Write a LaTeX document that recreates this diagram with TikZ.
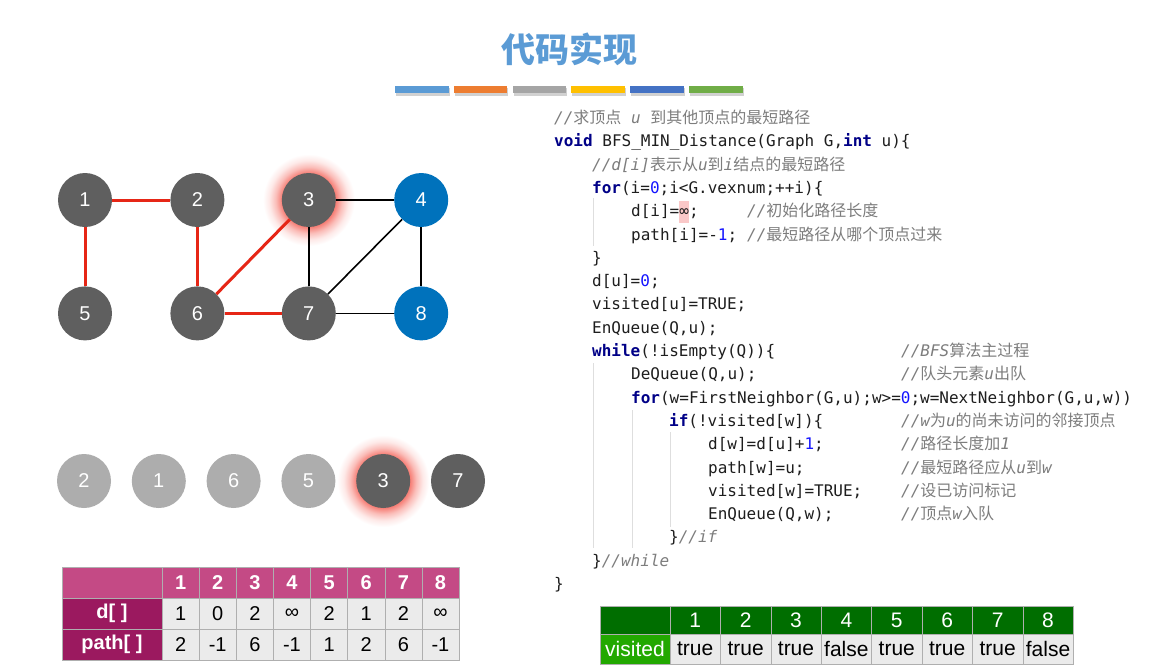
\documentclass[tikz,border=0pt]{standalone}
\usepackage{fontspec}
\setmainfont{Liberation Sans}
\setmonofont{DejaVu Sans Mono}
\newfontfamily\cjk{Noto Sans CJK SC}
\usetikzlibrary{positioning, backgrounds}

\definecolor{titleblue}{RGB}{91,155,213}
\definecolor{barA}{RGB}{91,155,213}
\definecolor{barB}{RGB}{237,125,49}
\definecolor{barC}{RGB}{165,165,165}
\definecolor{barD}{RGB}{255,192,0}
\definecolor{barE}{RGB}{68,114,196}
\definecolor{barF}{RGB}{112,173,71}
\definecolor{vgray}{RGB}{95,95,95}
\definecolor{vblue}{RGB}{0,114,188}
\definecolor{qgray}{RGB}{173,173,173}
\definecolor{treered}{RGB}{230,38,22}
\definecolor{glowred}{RGB}{245,110,100}
\definecolor{codeblack}{RGB}{30,30,30}
\definecolor{kwblue}{RGB}{0,0,135}
\definecolor{numblue}{RGB}{20,20,255}
\definecolor{cmtgray}{RGB}{125,125,125}
\definecolor{guidegray}{RGB}{222,222,222}
\definecolor{hlpink}{RGB}{250,200,200}
\definecolor{pinkhead}{RGB}{196,74,133}
\definecolor{pinklabel}{RGB}{155,25,95}
\definecolor{cellgray}{RGB}{235,235,235}
\definecolor{cellline}{RGB}{175,175,175}
\definecolor{greenhead}{RGB}{0,110,0}
\definecolor{greenlabel}{RGB}{34,168,0}

\pgfdeclareradialshading{glow}{\pgfpoint{0bp}{0bp}}{color(0bp)=(glowred); color(14.5bp)=(glowred!90!white); color(18bp)=(glowred!45!white); color(21.5bp)=(glowred!15!white); color(25bp)=(white); color(50bp)=(white)}

% code highlighting
\newcommand\kw[1]{\textbf{\textcolor{kwblue}{#1}}}
\newcommand\nm[1]{\textcolor{numblue}{#1}}
\newcommand\zh[1]{{\cjk\upshape #1}}
\newcommand\cmt[1]{{\color{cmtgray}\itshape #1}}
\newcommand\hl[1]{{\setlength{\fboxsep}{0pt}\colorbox{hlpink}{\rule[-6pt]{0pt}{22pt}#1}}}

\tikzset{
  vtx/.style={circle, fill=vgray, minimum size=54pt, inner sep=0pt, text=white, font=\fontsize{20}{20}\selectfont},
  bluevtx/.style={vtx, fill=vblue},
  qdone/.style={vtx, fill=qgray},
  treeedge/.style={draw=treered, line width=3pt},
  graphedge/.style={draw=black, line width=1.6pt},
  code/.style={anchor=base west, inner sep=0pt, text=codeblack, font=\fontsize{16}{16}\selectfont\ttfamily},
  guide/.style={draw=guidegray, line width=1pt},
  pcell/.style={draw=cellline, fill=cellgray, minimum width=37.125pt, minimum height=31pt, inner sep=0pt, font=\fontsize{20}{20}\selectfont},
  phead/.style={pcell, fill=pinkhead, text=white, font=\fontsize{20}{20}\selectfont\bfseries},
  plabel/.style={phead, fill=pinklabel, minimum width=100pt},
  gcell/.style={draw=cellline, fill=cellgray, minimum width=50.4pt, minimum height=30pt, inner sep=0pt, font=\fontsize{21}{21}\selectfont},
  ghead/.style={gcell, fill=greenhead, text=white, minimum height=28pt},
}

\begin{document}
\begin{tikzpicture}[x=1pt, y=-1pt]
\begin{scope}[on background layer]
  \fill[white] (0,0) rectangle (1172,670);
\end{scope}
\useasboundingbox (0,0) rectangle (1172,670);

% title
\node[text=titleblue, font=\cjk\bfseries\fontsize{34}{34}\selectfont] (title) at (569,49) {代码实现};
\foreach \c [count=\k from 0] in {barA,barB,barC,barD,barE,barF}{
  \fill[black, opacity=0.18] ({395+58.8*\k+1},88) rectangle ({395+58.8*\k+54.5},95.5);
  \fill[\c] ({395+58.8*\k},86) rectangle ({395+58.8*\k+53.5},93);
}

% graph
\node[vtx] (v1) at (85,200) {1};
\node[vtx, right=58pt of v1] (v2) {2};
\node[vtx, right=57pt of v2] (v3) {3};
\node[bluevtx, right=58pt of v3] (v4) {4};
\node[vtx, below=59pt of v1] (v5) {5};
\node[vtx, below=59pt of v2] (v6) {6};
\node[vtx, below=59pt of v3] (v7) {7};
\node[bluevtx, below=59pt of v4] (v8) {8};

\draw[treeedge] (v1) -- (v2);
\draw[treeedge] (v1) -- (v5);
\draw[treeedge] (v2) -- (v6);
\draw[treeedge] (v6) -- (v3);
\draw[treeedge] (v6) -- (v7);
\draw[graphedge] (v3) -- (v4);
\draw[graphedge] (v3) -- (v7);
\draw[graphedge] (v7) -- (v4);
\draw[graphedge] (v4) -- (v8);
\draw[graphedge] (v7) -- (v8);

% queue
\node[qdone] (q1) at (84,481) {2};
\node[qdone, right=20.4pt of q1] (q2) {1};
\node[qdone, right=20.4pt of q2] (q3) {6};
\node[qdone, right=20.4pt of q3] (q4) {5};
\node[vtx, right=20.4pt of q4] (q5) {3};
\node[vtx, right=20.4pt of q5] (q6) {7};

\begin{scope}[on background layer]
  \shade[shading=glow] (v3.center) circle (46pt);
  \shade[shading=glow] (q5.center) circle (46pt);
\end{scope}

% d[] and path[] table
\node[plabel, fill=pinkhead] (ptop) at (112,582.5) {};
\node[plabel] (pd) at (112,613.5) {d[ ]};
\node[plabel] (pp) at (112,644.5) {path[ ]};
\foreach \v [count=\i] in {1,0,2,∞,2,1,2,∞}{
  \node[phead] (ph\i) at ({162+37.125*(\i-0.5)},582.5) {\i};
  \node[pcell] (pd\i) at ({162+37.125*(\i-0.5)},613.5) {\v};
}
\foreach \v [count=\i] in {2,-1,6,-1,1,2,6,-1}
  \node[pcell] (pp\i) at ({162+37.125*(\i-0.5)},644.5) {\v};

% visited table
\node[ghead, minimum width=70pt] (gtop) at (635,620) {};
\node[gcell, fill=greenlabel, text=white, minimum width=70pt] (gv) at (635,649) {visited};
\foreach \v [count=\i] in {true,true,true,false,true,true,true,false}{
  \node[ghead] (gh\i) at ({670+50.4*(\i-0.5)},620) {\i};
  \node[gcell] (gv\i) at ({670+50.4*(\i-0.5)},649) {\v};
}

% code
\draw[guide] (593,198) -- (593,246);
\draw[guide] (593,363) -- (593,548);
\draw[guide] (632,410) -- (632,548);
\draw[guide] (670,432) -- (670,527);

\node[code] (l0) at (554,123.5) {\cmt{//\zh{求顶点} u \zh{到其他顶点的最短路径}}};
\node[code] (l1) at (554,146.8) {\kw{void} BFS\_MIN\_Distance(Graph G,\kw{int} u)\{};
\node[code] (l2) at (592,170.1) {\cmt{//d[i]\zh{表示从}u\zh{到}i\zh{结点的最短路径}}};
\node[code] (l3) at (592,193.4) {\kw{for}(i=\nm{0};i<G.vexnum;++i)\{};
\node[code] (l4) at (631,216.7) {d[i]=\hl{∞};};
\node[code] (c4) at (747,216.7) {\cmt{//\zh{初始化路径长度}}};
\node[code] (l5) at (631,240.0) {path[i]=-\nm{1};};
\node[code] (c5) at (747,240.0) {\cmt{//\zh{最短路径从哪个顶点过来}}};
\node[code] (l6) at (592,263.3) {\}};
\node[code] (l7) at (592,286.6) {d[u]=\nm{0};};
\node[code] (l8) at (592,309.9) {visited[u]=TRUE;};
\node[code] (l9) at (592,333.2) {EnQueue(Q,u);};
\node[code] (l10) at (592,356.5) {\kw{while}(!isEmpty(Q))\{};
\node[code] (c10) at (901,356.5) {\cmt{//BFS\zh{算法主过程}}};
\node[code] (l11) at (631,379.8) {DeQueue(Q,u);};
\node[code] (c11) at (901,379.8) {\cmt{//\zh{队头元素}u\zh{出队}}};
\node[code] (l12) at (631,403.1) {\kw{for}(w=FirstNeighbor(G,u);w>=\nm{0};w=NextNeighbor(G,u,w))};
\node[code] (l13) at (669,426.4) {\kw{if}(!visited[w])\{};
\node[code] (c13) at (901,426.4) {\cmt{//w\zh{为}u\zh{的尚未访问的邻接顶点}}};
\node[code] (l14) at (708,449.7) {d[w]=d[u]+\nm{1};};
\node[code] (c14) at (901,449.7) {\cmt{//\zh{路径长度加}1}};
\node[code] (l15) at (708,473.0) {path[w]=u;};
\node[code] (c15) at (901,473.0) {\cmt{//\zh{最短路径应从}u\zh{到}w}};
\node[code] (l16) at (708,496.3) {visited[w]=TRUE;};
\node[code] (c16) at (901,496.3) {\cmt{//\zh{设已访问标记}}};
\node[code] (l17) at (708,519.6) {EnQueue(Q,w);};
\node[code] (c17) at (901,519.6) {\cmt{//\zh{顶点}w\zh{入队}}};
\node[code] (l18) at (669,542.9) {\}\cmt{//if}};
\node[code] (l19) at (592,566.2) {\}\cmt{//while}};
\node[code] (l20) at (554,589.5) {\}};
\end{tikzpicture}
\end{document}
